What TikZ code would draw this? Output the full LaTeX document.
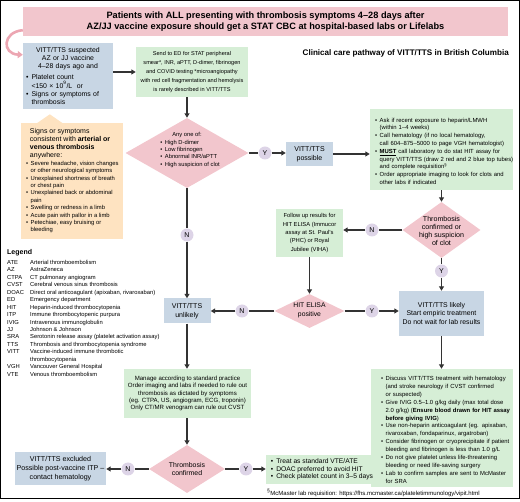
\documentclass[tikz,border=0pt]{standalone}
\usepackage{fontspec}
\setmainfont{Liberation Sans}
\usetikzlibrary{shapes.geometric,arrows.meta}

\definecolor{pinkfill}{HTML}{F2C6CD}
\definecolor{bluefill}{HTML}{C8D6E4}
\definecolor{greenfill}{HTML}{D6EED6}
\definecolor{peachfill}{HTML}{FEE3C1}
\definecolor{lavfill}{HTML}{DDD4E7}
\definecolor{linec}{HTML}{333333}
\definecolor{pinkline}{HTML}{ECA6B2}

\newcommand\fsz[2]{\fontsize{#1}{#2}\selectfont}
\newcommand\bl{\makebox[0.8em][l]{\textbullet}}
\newcommand\ct{\hspace*{0.8em}}
\newcommand\bitem{\par\noindent\hangindent=0.8em\hangafter=1\bl}
\newcommand\margins[1]{\leftskip=#1\rightskip=-8pt plus 1fil\relax}
\newcommand\abbr[1]{\makebox[23pt][l]{#1}}

\begin{document}
\begin{tikzpicture}[x=1pt,y=-1pt, % pixel grid, y downwards
  cell/.style={inner sep=0pt,align=center},
  bluebox/.style={cell,fill=bluefill},
  greenbox/.style={cell,fill=greenfill},
  decision/.style={diamond,fill=pinkfill,inner sep=0pt},
  dtext/.style={align=center,inner sep=0pt,font=\fsz{7}{8.2}},
  yn/.style={circle,fill=lavfill,minimum size=13pt,inner sep=0pt,font=\fsz{7}{8}},
  ln/.style={draw=linec,line width=1.3pt},
  arr/.style={ln,-{Triangle[length=4.5pt,width=5pt]}},
  pinkarr/.style={draw=pinkline,line width=2.6pt,-{Triangle[length=5pt,width=7pt]}}]
   \useasboundingbox (0,0) rectangle (520,502);
   \draw[line width=1.4pt] (0.7,0.7) rectangle (519.3,498.3);

   \node[cell,fill=pinkfill,minimum width=485pt,minimum height=29pt,font=\bfseries\fsz{9.2}{11}] (title) at (265.5,21.5)
      {Patients with ALL presenting with thrombosis symptoms 4–28 days after\\AZ/JJ vaccine exposure should get a STAT CBC at hospital-based labs or Lifelabs};
   \node[inner sep=0pt,anchor=east,font=\bfseries\fsz{8.1}{10}] (pathtitle) at (509,53)
      {Clinical care pathway of VITT/TTS in British Columbia};

   \node[bluebox,align=left,minimum width=90pt,minimum height=66pt,text width=90pt,font=\fsz{6.9}{8.3}] (suspect) at (68,76)
      {{\centering VITT/TTS suspected\\AZ or JJ vaccine\\4–28 days ago and\par}\vspace{2.5pt}\margins{3pt}
       \bitem Platelet count\newline <150 × 10\textsuperscript{9}/L\ \ or\bitem Signs or symptoms of\newline thrombosis\par};
   \draw[pinkarr] ([yshift=6pt]title.south west) .. controls (2,32) and (2,54) .. ([yshift=-12pt]suspect.north west);

   \node[greenbox,minimum width=112pt,minimum height=50pt,font=\fsz{5.6}{9}] (edtests) at (192,72)
      {Send to ED for STAT peripheral\\smear*, INR, aPTT, D-dimer, fibrinogen\\and COVID testing *microangiopathy\\with red cell fragmentation and hemolysis\\is rarely described in VITT/TTS};
   \draw[arr] (suspect.east |- edtests.west) -- (edtests.west);

   \node[fill=peachfill,minimum width=102pt,minimum height=116pt,inner sep=0pt] (signs) at (72,181) {};
   \fill[peachfill] ([xshift=16pt,yshift=-0.5pt]signs.north west) -- ++(13,-9) -- ++(13,9) -- cycle;
   \node[anchor=north west,inner sep=0pt,align=left,font=\fsz{7}{8}] (signshead) at ([xshift=9pt,yshift=-5.5pt]signs.north west)
      {Signs or symptoms\\consistent with \textbf{arterial or}\\\textbf{venous thrombosis}\\anywhere:};
   \node[anchor=north west,inner sep=0pt,align=left,font=\fsz{5.85}{7.4}] (signslist) at ([xshift=5pt,yshift=-38pt]signs.north west)
      {\bl Severe headache, vision changes\\\ct or other neurological symptoms\\\bl Unexplained shortness of breath\\\ct or chest pain\\
       \bl Unexplained back or abdominal\\\ct pain\\\bl Swelling or redness in a limb\\\bl Acute pain with pallor in a limb\\
       \bl Petechiae, easy bruising or\\\ct bleeding};

   \node[decision,minimum width=123pt,minimum height=70pt] (anyof) at (187,153) {};
   \node[align=left,inner sep=0pt,font=\fsz{5.8}{7.3}] (anytext) at (190,150)
      {\hspace*{12pt}Any one of:\\\bl High D-dimer\\\bl Low fibrinogen\\\bl Abnormal INR/aPTT\\\bl High suspicion of clot};
   \draw[arr] (anyof.north |- edtests.south) -- (anyof.north);

   \node[yn] (ypos) at (265,153) {Y};
   \node[bluebox,minimum width=47pt,minimum height=24pt,font=\fsz{7}{8.5}] (possible) at (309.5,154) {VITT/TTS\\possible};
   \draw[ln] (anyof.east) -- (ypos);
   \draw[arr] (ypos) -- (ypos -| possible.west);

   \node[greenbox,align=left,minimum width=143pt,minimum height=81pt,text width=143pt,font=\fsz{5.9}{7.8}] (hitwork) at (441.5,149.5)
      {\margins{5pt}
       \bitem Ask if recent exposure to heparin/LMWH\newline (within 1–4 weeks)
       \bitem Call hematology (if no local hematology,\newline call 604–875–5000 to page VGH hematologist)
       \bitem \underline{\textbf{MUST}} call laboratory to do stat HIT assay for\newline query VITT/TTS (draw 2 red and 2 blue top tubes)\newline and complete requisition\textsuperscript{\S}
       \bitem Order appropriate imaging to look for clots and\newline other labs if indicated\par};
   \draw[arr] (possible.east) -- (possible.east -| hitwork.west);

   \node[decision,minimum width=78pt,minimum height=56pt] (confclot) at (441.5,230) {};
   \node[dtext,font=\fsz{7.1}{8}] (confclottext) at (441.5,231) {Thrombosis\\confirmed or\\high suspicion\\of clot};
   \draw[arr] (hitwork.south) -- (confclot.north);

   \node[yn] (nfollow) at (372,230) {N};
   \node[greenbox,minimum width=67pt,minimum height=48pt,font=\fsz{5.8}{8.4}] (followup) at (309.5,233)
      {Follow up results for\\HIT ELISA (Immucor\\assay at St. Paul's\\(PHC) or Royal\\Jubilee (VIHA)};
   \draw[ln] (confclot.west) -- (nfollow);
   \draw[arr] (nfollow) -- (nfollow -| followup.east);

   \node[decision,minimum width=70pt,minimum height=34pt] (elisa) at (309.5,311) {};
   \node[dtext,font=\fsz{6.8}{8.7}] (elisatext) at (309.5,310) {HIT ELISA\\positive};
   \draw[arr] (followup.south) -- (elisa.north);

   \node[bluebox,minimum width=47pt,minimum height=25pt,font=\fsz{7}{8.5}] (unlikely) at (187,311) {VITT/TTS\\unlikely};
   \node[yn] (nany) at (187,235) {N};
   \draw[ln] (anyof.south) -- (nany);
   \draw[arr] (nany) -- (unlikely.north);

   \node[yn] (nelisa) at (242,311) {N};
   \draw[ln] (elisa.west) -- (nelisa);
   \draw[arr] (nelisa) -- (unlikely.east);

   \node[bluebox,minimum width=85pt,minimum height=45pt,font=\fsz{6.9}{8.7}] (likely) at (441.5,313.5)
      {VITT/TTS likely\\Start empiric treatment\\Do not wait for lab results};
   \node[yn] (yelisa) at (372,311) {Y};
   \draw[ln] (elisa.east) -- (yelisa);
   \draw[arr] (yelisa) -- (yelisa -| likely.west);
   \node[yn] (yconf) at (441.5,271) {Y};
   \draw[ln] (confclot.south) -- (yconf);
   \draw[arr] (yconf) -- (likely.north);

   \node[greenbox,align=left,minimum width=142pt,minimum height=118pt,text width=142pt,font=\fsz{5.9}{7.9}] (treatment) at (442,428)
      {\margins{10pt}
       \bitem Discuss VITT/TTS treatment with hematology\newline (and stroke neurology if CVST confirmed\newline or suspected)
       \bitem Give IVIG 0.5–1.0 g/kg daily (max total dose\newline 2.0 g/kg) (\textbf{Ensure blood drawn for HIT assay\newline before giving IVIG})
       \bitem Use non-heparin anticoagulant (eg. apixaban,\newline rivaroxaban, fondaparinux, argatroban)
       \bitem Consider fibrinogen or cryoprecipitate if patient\newline bleeding and fibrinogen is less than 1.0 g/L
       \bitem Do not give platelet unless life-threatening\newline bleeding or need life-saving surgery
       \bitem Lab to confirm samples are sent to McMaster\newline for SRA\par};
   \draw[arr] (likely.south) -- (likely.south |- treatment.north);

   \node[greenbox,minimum width=127pt,minimum height=49pt,font=\fsz{6.1}{7.3}] (manage) at (187.5,393.5)
      {Manage according to standard practice\\Order imaging and labs if needed to rule out\\thrombosis as dictated by symptoms\\(eg. CTPA, US, angiogram, ECG, troponin)\\Only CT/MR venogram can rule out CVST};
   \draw[arr] (unlikely.south) -- (unlikely.south |- manage.north);

   \node[decision,minimum width=76pt,minimum height=48pt] (thrconf) at (187,469) {};
   \node[dtext,font=\fsz{6.9}{8.3}] (thrconftext) at (187,469) {Thrombosis\\confirmed};
   \draw[arr] (manage.south -| thrconf.north) -- (thrconf.north);

   \node[bluebox,minimum width=91pt,minimum height=33pt,font=\fsz{7.1}{8.8}] (excluded) at (60.5,468.5)
      {VITT/TTS excluded\\Possible post-vaccine ITP –\\contact hematology};
   \node[yn] (nthr) at (128,469) {N};
   \draw[ln] (thrconf.west) -- (nthr);
   \draw[arr] (nthr) -- (nthr -| excluded.east);

   \node[greenbox,align=left,minimum width=112pt,minimum height=29pt,font=\fsz{6.7}{7.5}] (standard) at (322,469.5)
      {\bl Treat as standard VTE/ATE\\\bl DOAC preferred to avoid HIT\\\bl Check platelet count in 3–5 days};
   \node[yn] (ythr) at (246,469) {Y};
   \draw[ln] (thrconf.east) -- (ythr);
   \draw[arr] (ythr) -- (ythr -| standard.west);

   \node[inner sep=0pt,anchor=west,font=\fsz{6}{7}] (footnote) at (267,493)
      {\textsuperscript{\S}McMaster lab requisition: https://fhs.mcmaster.ca/plateletimmunology/vipit.html};

   \node[inner sep=0pt,anchor=west,font=\bfseries\fsz{7}{8}] (legendhead) at (7,253) {Legend};
   \node[inner sep=0pt,anchor=north west,align=left,font=\fsz{5.8}{7.45}] (legend) at (7,260)
      {\abbr{ATE}Arterial thromboembolism\\\abbr{AZ}AstraZeneca\\\abbr{CTPA}CT pulmonary angiogram\\
       \abbr{CVST}Cerebral venous sinus thrombosis\\\abbr{DOAC}Direct oral anticoagulant (apixaban, rivaroxaban)\\
       \abbr{ED}Emergency department\\\abbr{HIT}Heparin-induced thrombocytopenia\\\abbr{ITP}Immune thrombocytopenic purpura\\
       \abbr{IVIG}Intravenous immunoglobulin\\\abbr{JJ}Johnson \& Johnson\\\abbr{SRA}Serotonin release assay (platelet activation assay)\\
       \abbr{TTS}Thrombosis and thrombocytopenia syndrome\\\abbr{VITT}Vaccine-induced immune thrombotic\\\abbr{}thrombocytopenia\\
       \abbr{VGH}Vancouver General Hospital\\\abbr{VTE}Venous thromboembolism};
\end{tikzpicture}
\end{document}
